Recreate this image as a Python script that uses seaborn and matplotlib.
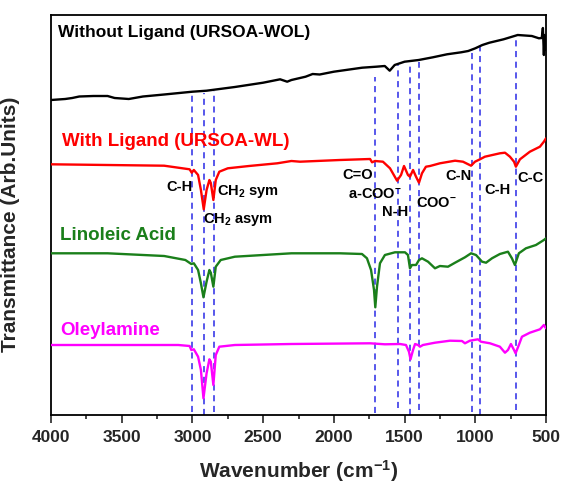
import matplotlib
matplotlib.use("Agg")
import matplotlib.pyplot as plt
import seaborn as sns
import pandas as pd
from matplotlib.ticker import MultipleLocator

# ---------------- data (arbitrary units) ----------------
wol_wn = [4000, 3900, 3850, 3800, 3700, 3600, 3550, 3450, 3350, 3200, 3000, 2900, 2700,
          2500, 2380, 2330, 2300, 2200, 2150, 2100, 2000, 1800, 1700, 1640, 1605, 1570,
          1500, 1400, 1300, 1200, 1100, 1050, 1000, 950, 900, 800, 700, 600, 550, 530,
          522, 515, 510, 503, 500]
wol_t = [315, 316, 317, 318.5, 319, 319, 317, 316, 318.5, 320.5, 323.3, 324.3, 328,
         332.3, 335.7, 333.3, 335, 338.3, 341, 340.5, 343.3, 347.3, 348.3, 349, 344.3, 350,
         353.3, 355, 357.7, 360.7, 362.7, 364, 366.7, 370, 372.3, 375.7, 380, 379, 376.7, 377,
         387, 360, 380, 365, 370]

wl_wn = [4000, 3200, 3100, 3020, 3005, 2990, 2960, 2940, 2920, 2900, 2880, 2870, 2852,
         2835, 2810, 2750, 2600, 2400, 2300, 2239, 1957, 1744, 1730, 1709, 1653, 1603,
         1553, 1525, 1504, 1476, 1462, 1440, 1419, 1398, 1377, 1349, 1320, 1250, 1143,
         1087, 1030, 1002, 967, 932, 826, 790, 755, 726, 713, 684, 614, 543, 515, 500]
wl_t = [250.7, 249.3, 247.3, 245.7, 242.3, 245, 240, 225, 205.7, 225, 235, 232, 215,
        235, 243.3, 246.7, 249, 251.7, 254, 253.3, 255, 256, 252.7, 254, 253.3, 246.7,
        234.3, 240, 249, 240, 238.3, 245, 238.3, 232.3, 241.7, 248.3, 249, 251.7, 254.3,
        253.3, 249.3, 253.3, 255.7, 258.3, 261.7, 262.3, 258.3, 253.3, 248.3, 255.7,
        263.3, 268.3, 273.3, 276.7]

la_wn = [4000, 3600, 3200, 3050, 3008, 2990, 2960, 2940, 2922, 2900, 2880, 2870, 2852,
         2835, 2800, 2700, 2500, 2300, 1957, 1801, 1766, 1737, 1716, 1707, 1695, 1674,
         1639, 1568, 1497, 1476, 1462, 1448, 1419, 1398, 1377, 1334, 1285, 1250, 1193,
         1143, 1073, 1030, 995, 952, 924, 882, 826, 769, 741, 720, 692, 642, 571, 515, 500]
la_t = [161.7, 161.7, 159, 155, 151, 151.7, 145, 131.7, 117.7, 133.3, 145, 142.3, 128.3,
        148.3, 155, 158.3, 160, 161.7, 161.7, 161, 156.7, 145, 125, 107.7, 128.3, 151.7,
        160, 162.7, 162.7, 160, 146.7, 150, 150, 155, 156.7, 153.3, 146.7, 149, 148.3,
        152.3, 157.7, 161.7, 160, 153.3, 152.3, 156.7, 161, 163.3, 156.7, 150, 161.7,
        166.7, 170, 175, 176.7]

oa_wn = [4000, 3100, 3020, 3008, 2990, 2960, 2940, 2922, 2900, 2880, 2870, 2852, 2835,
         2810, 2700, 2300, 1744, 1639, 1532, 1490, 1469, 1458, 1440, 1426, 1405, 1391,
         1370, 1285, 1179, 1094, 1073, 1038, 981, 960, 896, 826, 790, 769, 748, 726, 715,
         692, 670, 614, 543, 515, 500]
oa_t = [70, 70, 69, 65, 65.7, 58.3, 45, 16.7, 41.7, 55.7, 53.3, 30, 60,
        68.3, 70, 71, 71.7, 70.7, 71, 70, 63.3, 55.7, 65, 71, 70, 68.3,
        70, 72.3, 74.3, 74, 71.7, 74.3, 75.7, 73.3, 71.7, 68.3, 62.3, 65, 71, 65, 61.7,
        70, 78.3, 82.3, 85.7, 90, 86.7]

# reference (dashed) lines: wavenumber, top and bottom level
ref_wn = [3005, 2920, 2850, 1710, 1550, 1460, 1400, 1025, 965, 715]
ref_top = [322, 322.3, 324.3, 337.7, 350, 351.7, 353.3, 363.3, 368.3, 377.7]
ref_bot = [3.3, 0, 3.3, 1.7, 6.7, 0, 5, 3.3, 0, 5]

series_names = ["Without Ligand (URSOA-WOL)", "With Ligand (URSOA-WL)", "Linoleic Acid", "Oleylamine"]
series_colors = ["black", "#ff0000", "#1a7f1a", "#ff00ff"]

# band annotations: text, wavenumber, level, alignment
band_text = ["C-H", "CH$_2$ sym", "CH$_2$ asym", "C=O", "a-COO$^{-}$", "N-H", "COO$^{-}$", "C-N", "C-H", "C-C"]
band_wn = [2996, 2826, 2927, 1833, 1712, 1568, 1273, 1120, 846, 610]
band_y = [228.3, 223.3, 196, 240, 221, 203.3, 211.7, 239, 225, 236.7]
band_ha = ["right", "left", "left", "center", "center", "center", "center", "center", "center", "center"]

# ---------------- plotting ----------------
sns.set_theme(style="ticks")
plt.rcParams['font.family'] = ['Liberation Sans', 'DejaVu Sans']
plt.rcParams['font.weight'] = 'bold'
plt.rcParams['mathtext.fontset'] = 'custom'
plt.rcParams['mathtext.rm'] = 'Liberation Sans:bold'
plt.rcParams['mathtext.bf'] = 'Liberation Sans:bold'
plt.rcParams['mathtext.it'] = 'Liberation Sans:bold:italic'
plt.rcParams['mathtext.default'] = 'bf'

fig = plt.figure(figsize=(5.61, 4.88), dpi=100)
ax = fig.add_axes([51/561, 1 - 415/488, 495/561, 400/488])

frames = []
for name, wn, t in zip(series_names, [wol_wn, wl_wn, la_wn, oa_wn], [wol_t, wl_t, la_t, oa_t]):
    frames.append(pd.DataFrame({"wn": wn, "t": t, "sample": name}))
df = pd.concat(frames, ignore_index=True)

for x, top, bot in zip(ref_wn, ref_top, ref_bot):
    ax.plot([x, x], [bot, top], color="#2a2ae6", lw=1.1, ls=(0, (4, 3)), zorder=1)

sns.lineplot(data=df, x="wn", y="t", hue="sample", palette=series_colors,
             hue_order=series_names, estimator=None, sort=False, lw=1.7,
             legend=False, ax=ax, zorder=3)

label_pos = [(3950, 382), (3922, 273.3), (3936, 180), (3936, 84.3)]
for name, col, (x, y) in zip(series_names, series_colors, label_pos):
    ax.text(x, y, name, color=col, fontsize=12.5 if col == "black" else 13.5,
            fontweight="bold", ha="left", va="center")

for txt, x, y, ha in zip(band_text, band_wn, band_y, band_ha):
    ax.text(x, y, txt, color="black", fontsize=10.5, fontweight="bold", ha=ha, va="center")

ax.set_xlim(4000, 500)
ax.set_ylim(0, 400)
ax.xaxis.set_major_locator(MultipleLocator(500))
ax.xaxis.set_minor_locator(MultipleLocator(250))
ax.set_yticks([])
ax.tick_params(axis="x", which="major", direction="out", length=5.5, width=1.2,
               labelsize=12.5, pad=5)
ax.tick_params(axis="x", which="minor", direction="out", length=3, width=1.2)
for lab in ax.get_xticklabels():
    lab.set_fontweight("bold")
for sp in ax.spines.values():
    sp.set_visible(True)
    sp.set_linewidth(1.3)
    sp.set_color("black")

ax.set_xlabel("Wavenumber (cm$^{-1}$)", fontsize=15, fontweight="bold", labelpad=10)
ax.set_ylabel("Transmittance (Arb.Units)", fontsize=15, fontweight="bold")
ax.yaxis.set_label_coords(-0.062, 0.477)

fig.savefig("out.png", dpi=100)
